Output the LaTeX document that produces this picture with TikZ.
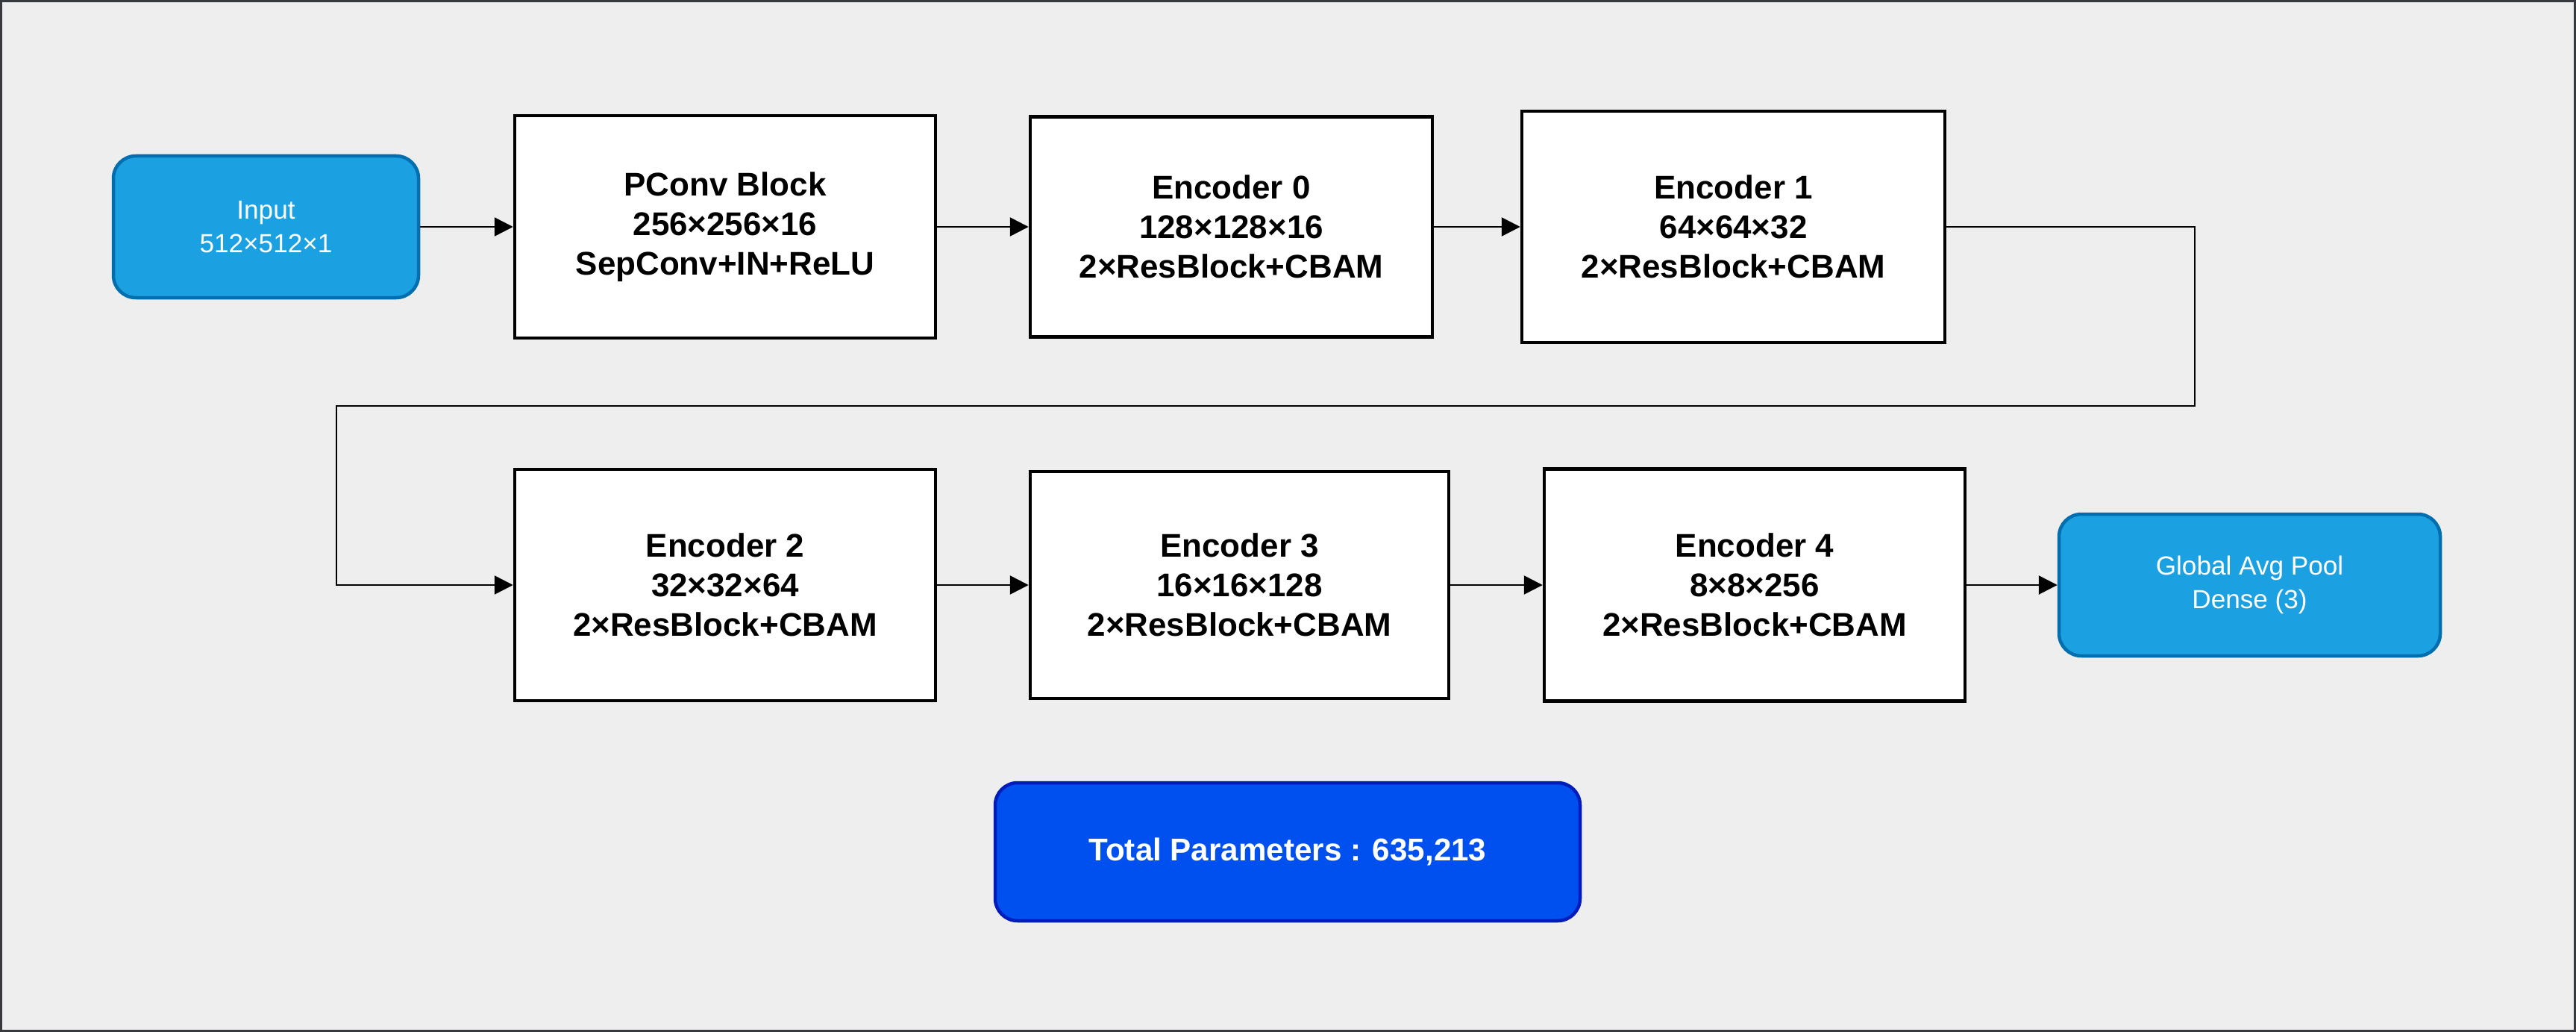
\documentclass[tikz,border=0pt]{standalone}
\usepackage{fontspec}
\setmainfont{Liberation Sans}
\usetikzlibrary{arrows.meta}
\definecolor{bgGray}{HTML}{EEEEEE}
\definecolor{frameGray}{HTML}{36393D}
\definecolor{ioFill}{HTML}{1BA1E2}
\definecolor{ioLine}{HTML}{006EAF}
\definecolor{sumFill}{HTML}{0050EF}
\definecolor{sumLine}{HTML}{001DBC}

\begin{document}
\begin{tikzpicture}[
    block/.style={draw=black, fill=white, line width=0.045cm, align=center, inner sep=0pt,
      font=\fontsize{12.5}{15}\selectfont\bfseries},
    io/.style={draw=ioLine, fill=ioFill, text=white, line width=0.045cm, rounded corners=0.3cm,
      align=center, inner sep=0pt, font=\fontsize{10}{12.8}\selectfont},
    flow/.style={line width=0.027cm, -{Triangle[length=0.25cm,width=0.25cm]}}
  ]
      \useasboundingbox (0,0) rectangle (34.53,-13.83);
      \draw[fill=bgGray, draw=frameGray, line width=0.03cm] (0.015,-0.015) rectangle (34.515,-13.815);
      % first row
      \node[io, minimum width=4.09cm, minimum height=1.90cm] (input) at (3.565,-3.04) {Input\\512×512×1};
      \node[block, minimum width=5.64cm, minimum height=2.98cm] (pconv) at (9.72,-3.04) {PConv Block\\256×256×16\\SepConv+IN+ReLU};
      \node[block, minimum width=5.39cm, minimum height=2.95cm] (enc0) at (16.505,-3.04) {Encoder 0\\128×128×16\\2×ResBlock+CBAM};
      \node[block, minimum width=5.67cm, minimum height=3.10cm] (enc1) at (23.235,-3.04) {Encoder 1\\64×64×32\\2×ResBlock+CBAM};
      % second row
      \node[block, minimum width=5.64cm, minimum height=3.10cm] (enc2) at (9.72,-7.84) {Encoder 2\\32×32×64\\2×ResBlock+CBAM};
      \node[block, minimum width=5.61cm, minimum height=3.04cm] (enc3) at (16.615,-7.84) {Encoder 3\\16×16×128\\2×ResBlock+CBAM};
      \node[block, minimum width=5.64cm, minimum height=3.11cm] (enc4) at (23.52,-7.84) {Encoder 4\\8×8×256\\2×ResBlock+CBAM};
      \node[io, minimum width=5.11cm, minimum height=1.90cm] (pool) at (30.155,-7.84) {Global Avg Pool\\Dense (3)};
      \node[io, draw=sumLine, fill=sumFill, minimum width=7.84cm, minimum height=1.85cm,
        font=\fontsize{12}{14}\selectfont\bfseries] (total) at (17.26,-11.415) {Total Parameters : 635,213};
      \coordinate (turnA) at (29.42,-5.44);
      \coordinate (turnB) at (4.51,-5.44);
      \draw[flow] (input.east) -- (pconv.west);
      \draw[flow] (pconv.east) -- (enc0.west);
      \draw[flow] (enc0.east) -- (enc1.west);
      \draw[flow] (enc1.east) -| (turnA) -- (turnB) |- (enc2.west);
      \draw[flow] (enc2.east) -- (enc3.west);
      \draw[flow] (enc3.east) -- (enc4.west);
      \draw[flow] (enc4.east) -- (pool.west);
    \end{tikzpicture}
\end{document}
